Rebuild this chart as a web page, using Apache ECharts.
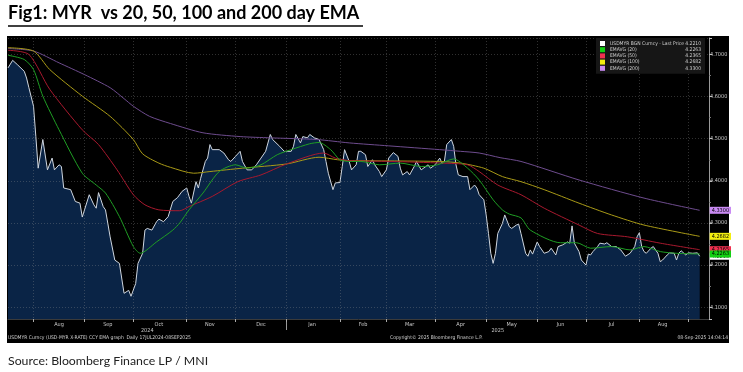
<!DOCTYPE html>
<html><head><meta charset="utf-8">
<script src="https://cdn.jsdelivr.net/npm/echarts@6/dist/echarts.min.js"></script>
<style>html,body{margin:0;padding:0;background:#fff}#c{width:743px;height:372px}</style>
</head><body><div id="c"></div>
<script>
// ---------- data ----------
const startDate = '2024-07-17';
const axisEndDate = '2025-09-12';
const monthNames = ['Jan','Feb','Mar','Apr','May','Jun','Jul','Aug','Sep','Oct','Nov','Dec'];
const seriesNames = ['USDMYR BGN Curncy - Last Price','EMAVG (20)','EMAVG (50)','EMAVG (100)','EMAVG (200)'];

const priceData = [['2024-07-17',4.668],['2024-07-19',4.686],['2024-07-23',4.676],['2024-07-26',4.660],['2024-07-29',4.644],['2024-07-30',4.621],['2024-08-01',4.577],['2024-08-02',4.505],['2024-08-05',4.430],['2024-08-07',4.498],['2024-08-09',4.426],['2024-08-13',4.454],['2024-08-14',4.426],['2024-08-16',4.438],['2024-08-19',4.434],['2024-08-20',4.383],['2024-08-23',4.379],['2024-08-27',4.351],['2024-08-29',4.347],['2024-08-30',4.314],['2024-09-04',4.367],['2024-09-06',4.343],['2024-09-09',4.335],['2024-09-10',4.372],['2024-09-12',4.339],['2024-09-13',4.331],['2024-09-17',4.267],['2024-09-19',4.212],['2024-09-23',4.204],['2024-09-25',4.133],['2024-09-27',4.140],['2024-09-30',4.126],['2024-10-02',4.156],['2024-10-03',4.204],['2024-10-07',4.228],['2024-10-08',4.283],['2024-10-09',4.287],['2024-10-11',4.283],['2024-10-15',4.303],['2024-10-16',4.309],['2024-10-18',4.303],['2024-10-22',4.315],['2024-10-24',4.351],['2024-10-28',4.360],['2024-10-30',4.375],['2024-11-01',4.383],['2024-11-04',4.363],['2024-11-05',4.347],['2024-11-07',4.398],['2024-11-08',4.383],['2024-11-11',4.406],['2024-11-13',4.446],['2024-11-14',4.454],['2024-11-15',4.486],['2024-11-18',4.474],['2024-11-21',4.474],['2024-11-25',4.466],['2024-11-27',4.450],['2024-11-28',4.446],['2024-12-02',4.458],['2024-12-04',4.470],['2024-12-05',4.446],['2024-12-09',4.426],['2024-12-11',4.426],['2024-12-13',4.438],['2024-12-17',4.454],['2024-12-19',4.470],['2024-12-23',4.510],['2024-12-24',4.498],['2024-12-27',4.482],['2024-12-31',4.470],['2025-01-03',4.470],['2025-01-06',4.482],['2025-01-07',4.510],['2025-01-09',4.490],['2025-01-10',4.505],['2025-01-14',4.502],['2025-01-15',4.510],['2025-01-17',4.502],['2025-01-21',4.498],['2025-01-23',4.474],['2025-01-24',4.446],['2025-01-27',4.418],['2025-01-29',4.379],['2025-01-30',4.395],['2025-02-03',4.396],['2025-02-04',4.434],['2025-02-05',4.474],['2025-02-07',4.446],['2025-02-10',4.426],['2025-02-12',4.438],['2025-02-13',4.470],['2025-02-14',4.470],['2025-02-18',4.462],['2025-02-19',4.434],['2025-02-21',4.450],['2025-02-24',4.438],['2025-02-26',4.422],['2025-02-27',4.410],['2025-03-03',4.426],['2025-03-04',4.454],['2025-03-06',4.467],['2025-03-10',4.458],['2025-03-11',4.430],['2025-03-12',4.414],['2025-03-14',4.422],['2025-03-17',4.414],['2025-03-19',4.434],['2025-03-20',4.446],['2025-03-24',4.426],['2025-03-27',4.438],['2025-03-28',4.430],['2025-04-01',4.438],['2025-04-03',4.454],['2025-04-04',4.442],['2025-04-07',4.446],['2025-04-08',4.486],['2025-04-10',4.498],['2025-04-11',4.482],['2025-04-14',4.438],['2025-04-15',4.414],['2025-04-17',4.410],['2025-04-21',4.410],['2025-04-22',4.379],['2025-04-24',4.390],['2025-04-25',4.383],['2025-04-28',4.367],['2025-04-30',4.355],['2025-05-01',4.319],['2025-05-02',4.275],['2025-05-05',4.228],['2025-05-06',4.204],['2025-05-07',4.228],['2025-05-08',4.275],['2025-05-12',4.299],['2025-05-13',4.319],['2025-05-15',4.291],['2025-05-16',4.287],['2025-05-20',4.295],['2025-05-21',4.297],['2025-05-22',4.275],['2025-05-26',4.228],['2025-05-27',4.221],['2025-05-28',4.236],['2025-05-29',4.226],['2025-06-02',4.255],['2025-06-03',4.244],['2025-06-05',4.228],['2025-06-09',4.232],['2025-06-10',4.240],['2025-06-12',4.224],['2025-06-13',4.244],['2025-06-17',4.248],['2025-06-19',4.255],['2025-06-20',4.252],['2025-06-23',4.293],['2025-06-24',4.252],['2025-06-26',4.232],['2025-06-27',4.212],['2025-07-01',4.200],['2025-07-02',4.226],['2025-07-03',4.224],['2025-07-04',4.232],['2025-07-08',4.244],['2025-07-09',4.252],['2025-07-11',4.250],['2025-07-14',4.253],['2025-07-16',4.244],['2025-07-18',4.244],['2025-07-22',4.236],['2025-07-24',4.221],['2025-07-28',4.228],['2025-07-30',4.244],['2025-07-31',4.267],['2025-08-01',4.277],['2025-08-04',4.244],['2025-08-05',4.232],['2025-08-06',4.228],['2025-08-08',4.240],['2025-08-11',4.244],['2025-08-13',4.228],['2025-08-14',4.208],['2025-08-15',4.212],['2025-08-19',4.224],['2025-08-20',4.229],['2025-08-22',4.228],['2025-08-25',4.212],['2025-08-26',4.228],['2025-08-27',4.234],['2025-08-29',4.224],['2025-09-01',4.229],['2025-09-03',4.228],['2025-09-05',4.229],['2025-09-08',4.2210]];

const ema20 = [['2024-07-17',4.698],['2024-07-26',4.688],['2024-08-01',4.664],['2024-08-07',4.601],['2024-08-16',4.521],['2024-08-30',4.418],['2024-09-09',4.390],['2024-09-13',4.371],['2024-09-23',4.315],['2024-10-01',4.244],['2024-10-04',4.228],['2024-10-15',4.255],['2024-10-24',4.283],['2024-10-29',4.300],['2024-11-04',4.331],['2024-11-12',4.371],['2024-11-21',4.422],['2024-12-02',4.438],['2024-12-09',4.430],['2024-12-17',4.438],['2024-12-26',4.462],['2025-01-03',4.474],['2025-01-15',4.488],['2025-01-21',4.491],['2025-01-28',4.474],['2025-02-03',4.450],['2025-02-07',4.446],['2025-02-14',4.446],['2025-02-26',4.438],['2025-03-11',4.442],['2025-03-24',4.434],['2025-04-02',4.438],['2025-04-11',4.452],['2025-04-21',4.430],['2025-04-28',4.402],['2025-05-06',4.355],['2025-05-12',4.331],['2025-05-15',4.321],['2025-05-22',4.312],['2025-05-28',4.283],['2025-06-16',4.253],['2025-06-25',4.253],['2025-07-03',4.240],['2025-07-16',4.244],['2025-07-28',4.236],['2025-08-05',4.244],['2025-08-14',4.232],['2025-08-25',4.228],['2025-09-08',4.2263]];

const ema50 = [['2024-07-17',4.710],['2024-07-30',4.700],['2024-08-12',4.617],['2024-08-30',4.521],['2024-09-10',4.486],['2024-09-20',4.426],['2024-10-01',4.367],['2024-10-08',4.343],['2024-10-16',4.331],['2024-10-29',4.329],['2024-11-04',4.339],['2024-11-18',4.363],['2024-12-03',4.398],['2024-12-17',4.414],['2025-01-01',4.440],['2025-01-23',4.466],['2025-01-30',4.454],['2025-02-07',4.448],['2025-03-05',4.446],['2025-04-04',4.442],['2025-04-21',4.438],['2025-04-28',4.422],['2025-05-08',4.390],['2025-05-22',4.367],['2025-06-05',4.335],['2025-06-26',4.295],['2025-07-08',4.275],['2025-07-25',4.267],['2025-08-14',4.252],['2025-09-08',4.2365]];

const ema100 = [['2024-07-17',4.716],['2024-08-01',4.708],['2024-08-12',4.664],['2024-08-30',4.601],['2024-09-17',4.553],['2024-10-01',4.498],['2024-10-07',4.464],['2024-10-16',4.442],['2024-10-23',4.432],['2024-11-06',4.418],['2024-11-15',4.422],['2024-12-05',4.430],['2025-01-01',4.440],['2025-01-21',4.456],['2025-01-31',4.450],['2025-02-07',4.448],['2025-04-03',4.446],['2025-04-16',4.442],['2025-04-30',4.430],['2025-05-12',4.410],['2025-05-22',4.398],['2025-06-05',4.379],['2025-06-26',4.347],['2025-07-16',4.319],['2025-08-05',4.295],['2025-09-08',4.2682]];

const ema200 = [['2024-07-17',4.714],['2024-08-01',4.708],['2024-08-16',4.680],['2024-09-02',4.652],['2024-09-17',4.621],['2024-09-25',4.595],['2024-10-01',4.577],['2024-10-10',4.553],['2024-10-23',4.536],['2024-11-12',4.514],['2024-12-04',4.505],['2024-12-23',4.502],['2025-01-20',4.498],['2025-02-07',4.490],['2025-03-04',4.483],['2025-04-03',4.474],['2025-04-16',4.470],['2025-04-28',4.466],['2025-05-09',4.455],['2025-05-22',4.446],['2025-06-26',4.402],['2025-08-05',4.359],['2025-09-08',4.3300]];

// ---------- axis helpers ----------
function weekdays(a, b) {
  const out = []; let d = new Date(a + 'T00:00:00Z'); const e = new Date(b + 'T00:00:00Z');
  while (d <= e) { const w = d.getUTCDay(); if (w !== 0 && w !== 6) out.push(d.toISOString().slice(0, 10)); d = new Date(d.getTime() + 86400000); }
  return out;
}
const categories = weekdays(startDate, axisEndDate);
const monthFirst = new Set(), monthMid = new Set(), yearFirst = new Set(), yearMid = new Set();
const mg = {}, yg = {};
categories.forEach((c, i) => { (mg[c.slice(0,7)] = mg[c.slice(0,7)] || []).push(i); (yg[c.slice(0,4)] = yg[c.slice(0,4)] || []).push(i); });
Object.values(mg).forEach(g => {
  if (g[0] > 0) monthFirst.add(g[0]);
  const d0 = +categories[g[0]].slice(8), d1 = +categories[g[g.length-1]].slice(8);
  if (d0 <= 3 && d1 >= 26) monthMid.add(Math.round((g[0] + g[g.length-1]) / 2));
});
Object.values(yg).forEach(g => { if (g[0] > 0) yearFirst.add(g[0]); yearMid.add(Math.round((g[0] + g[g.length-1]) / 2)); });

const F = '"DejaVu Sans Condensed","Liberation Sans Narrow","Liberation Sans",sans-serif';
const lineColors = ['#cfd6df', '#1f9e24', '#a8192e', '#a99a17', '#6e4c8e'];
const tagColors = ['#ffffff', '#12d012', '#f0304f', '#f3ee10', '#c98af3'];
const allData = [priceData, ema20, ema50, ema100, ema200];
const lastVals = {};
seriesNames.forEach((n, k) => { const d = allData[k]; lastVals[n] = d[d.length-1][1].toFixed(4); });

const series = seriesNames.map((n, k) => ({
  name: n, type: 'line', data: allData[k], symbol: 'none', smooth: k === 0 ? false : 0.25,
  lineStyle: { color: lineColors[k], width: 1 }, itemStyle: { color: lineColors[k] },
  areaStyle: k === 0 ? { color: '#0a2446', opacity: 1, origin: 'start' } : undefined,
  z: k === 0 ? 2 : 4 + (4 - k), silent: true, animation: false,
  endLabel: { show: true, formatter: p => (+p.value[1]).toFixed(4), distance: 10, fontSize: 5.5, fontFamily: F,
    color: '#000', backgroundColor: tagColors[k], padding: [1, 2, 0, 2], lineHeight: 6 }
}));

const chart = echarts.init(document.getElementById('c'), null, { renderer: 'canvas' });
chart.setOption({
  backgroundColor: '#ffffff',
  animation: false,
  grid: { left: 8, right: 34, top: 38, bottom: 53 },
  legend: {
    orient: 'vertical', left: 596, top: 38, itemGap: 1.2, itemWidth: 5, itemHeight: 5, icon: 'rect',
    padding: [3, 4, 3, 4], backgroundColor: '#161616', selectedMode: false,
    data: seriesNames.map((n, k) => ({ name: n, itemStyle: { color: tagColors[k] } })),
    formatter: n => `{n|${n}}{v|${lastVals[n]}}`,
    textStyle: { color: '#d0d0d0', fontSize: 5, fontFamily: F,
      rich: { n: { width: 76, fontSize: 5, lineHeight: 6, color: '#d0d0d0', fontFamily: F }, v: { width: 15, align: 'right', fontSize: 5, lineHeight: 6, color: '#d0d0d0', fontFamily: F } } }
  },
  xAxis: [{
    type: 'category', data: categories, boundaryGap: false, z: 3,
    axisLine: { show: true, lineStyle: { color: '#3a3a3a' } },
    axisTick: { show: true, interval: i => monthFirst.has(i), length: 3, lineStyle: { color: '#aaa' } },
    axisLabel: { interval: i => monthMid.has(i), formatter: v => monthNames[+v.slice(5, 7) - 1], color: '#c8c8c8', fontSize: 5.5, fontFamily: F, margin: 3 },
    splitLine: { show: true, interval: i => monthFirst.has(i), lineStyle: { color: 'rgba(150,150,150,0.32)', type: [1, 2] } }
  }, {
    type: 'category', data: categories, boundaryGap: false, position: 'bottom', offset: 3, z: 3,
    axisLine: { show: false },
    axisTick: { show: true, interval: i => yearFirst.has(i), length: 8, lineStyle: { color: '#999' } },
    axisLabel: { interval: i => yearMid.has(i), formatter: v => v.slice(0, 4), color: '#c8c8c8', fontSize: 5.5, fontFamily: F, margin: 6 },
    splitLine: { show: false }
  }],
  yAxis: {
    type: 'value', position: 'right', min: 4.072, max: 4.739, splitNumber: 7, z: 3,
    axisLine: { show: true, lineStyle: { color: '#9a9a9a' } },
    axisTick: { show: true, length: 3, lineStyle: { color: '#bbb' } },
    minorTick: { show: true, splitNumber: 2, length: 2, lineStyle: { color: '#777' } },
    axisLabel: { formatter: v => v.toFixed(4), color: '#c8c8c8', fontSize: 5.5, fontFamily: F, margin: 1, showMinLabel: false, showMaxLabel: false },
    splitLine: { show: true, lineStyle: { color: 'rgba(150,150,150,0.32)', type: [1, 2] } }
  },
  series: series,
  graphic: [
    { type: 'rect', left: 7, top: 36, z: -10, silent: true, shape: { width: 722, height: 307 }, style: { fill: '#000' } },
    { type: 'text', left: 8, top: 4, style: { text: 'Fig1: MYR  vs 20, 50, 100 and 200 day EMA', font: 'bold 18px Lato, "Open Sans", sans-serif', fill: '#000' } },
    { type: 'line', silent: true, shape: { x1: 8, y1: 26, x2: 363, y2: 26 }, style: { stroke: '#000', lineWidth: 1.4 } },
    { type: 'text', left: 8, top: 335, style: { text: 'USDMYR Curncy (USD-MYR X-RATE) CCY EMA graph  Daily 17JUL2024-08SEP2025', font: '5px ' + F, fill: '#d0d0d0' } },
    { type: 'text', left: 390, top: 335, style: { text: 'Copyright\u00a9 2025 Bloomberg Finance L.P.', font: '5px ' + F, fill: '#d0d0d0' } },
    { type: 'text', right: 15, top: 335, style: { text: '08-Sep-2025 14:04:14', font: '5px ' + F, fill: '#d0d0d0' } },
    { type: 'text', left: 8, top: 355, style: { text: 'Source: Bloomberg Finance LP / MNI', font: '12.3px Lato, "Open Sans", sans-serif', fill: '#222' } }
  ]
});
</script>
</body></html>
